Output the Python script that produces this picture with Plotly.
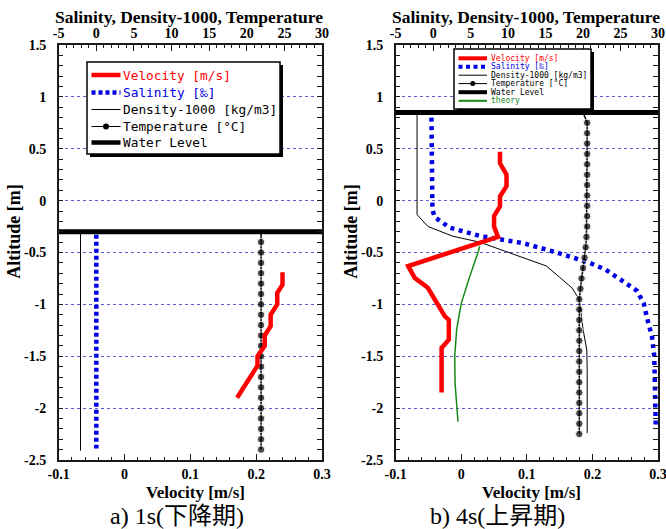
import plotly.graph_objects as go

W, H = 666, 529

# ---------------- data ----------------
# tick labels
alt_ticks = [-2.5, -2, -1.5, -1, -0.5, 0, 0.5, 1, 1.5]
alt_labels = ["-2.5", "-2", "-1.5", "-1", "-0.5", "0", "0.5", "1", "1.5"]
vel_ticks = [-0.1, 0, 0.1, 0.2, 0.3]
vel_labels = ["-0.1", "0", "0.1", "0.2", "0.3"]
top_ticks = [-5, 0, 5, 10, 15, 20, 25, 30]
top_labels = ["-5", "0", "5", "10", "15", "20", "25", "30"]

# panel a) 1s
a_water_level = -0.3
a_vel_alt = [-0.69, -0.81, -0.89, -1.00, -1.10, -1.21, -1.30, -1.40, -1.50, -1.59, -1.90]
a_vel = [0.240, 0.240, 0.232, 0.232, 0.222, 0.222, 0.213, 0.213, 0.202, 0.202, 0.171]
a_sal_alt = [-0.33, -2.39]
a_sal = [0.0, 0.0]
a_den_alt = [-0.3, -2.41]
a_den = [-2.1, -2.1]
a_temp_alt = [-0.3, -0.4, -0.5, -0.6, -0.7, -0.8, -0.9, -1.0, -1.1, -1.2, -1.3,
              -1.4, -1.5, -1.6, -1.7, -1.8, -1.9, -2.0, -2.1, -2.2, -2.3, -2.4]
a_temp = [21.9, 21.9, 21.9, 21.9, 21.9, 21.9, 21.9, 21.9, 21.9, 21.9, 21.9,
          21.9, 21.9, 21.9, 21.9, 21.9, 21.9, 21.9, 21.9, 21.9, 21.9, 21.9]

# panel b) 4s
b_water_level = 0.85
b_vel_alt = [0.47, 0.36, 0.25, 0.14, 0.04, -0.055, -0.15, -0.25, -0.35, -0.63,
             -0.745, -0.84, -1.115, -1.15, -1.34, -1.42, -1.85]
b_vel = [0.059, 0.059, 0.069, 0.069, 0.059, 0.059, 0.050, 0.050, 0.056, -0.081,
         -0.071, -0.051, -0.025, -0.019, -0.019, -0.030, -0.030]
b_theory_alt = [-0.44, -0.49, -0.73, -0.99, -1.24, -1.50, -1.76, -2.13]
b_theory = [0.028, 0.026, 0.013, 0.000, -0.007, -0.010, -0.0095, -0.005]
b_sal_alt = [0.80, -0.09, -0.16, -0.26, -0.34, -0.41, -0.49, -0.60, -0.665, -0.73,
             -0.78, -0.87, -0.99, -1.12, -1.31, -1.50, -1.92, -2.18]
b_sal = [-0.23, -0.1, 0.21, 2.2, 6.2, 12.0, 16.0, 20.9, 23.0, 24.5,
         25.4, 27.2, 28.1, 28.5, 29.2, 29.5, 29.7, 29.7]
b_den_alt = [0.84, -0.135, -0.25, -0.344, -0.40, -0.49, -0.63, -0.74, -0.84, -0.95,
             -1.24, -1.44, -1.63, -2.24]
b_den = [-2.15, -2.15, -0.68, 2.65, 6.2, 9.8, 15.1, 16.9, 18.5, 19.5,
         20.0, 20.5, 20.55, 20.55]
b_temp_alt = [0.85, 0.75, 0.65, 0.55, 0.45, 0.35, 0.25, 0.15, 0.05, -0.05, -0.15,
              -0.25, -0.35, -0.45, -0.55, -0.65, -0.75, -0.85, -0.95, -1.05, -1.15,
              -1.25, -1.35, -1.45, -1.55, -1.65, -1.75, -1.85, -1.95, -2.05, -2.15, -2.25]
b_temp = [20.0, 20.55, 20.55, 20.55, 20.55, 20.55, 20.55, 20.55, 20.55, 20.55, 20.55,
          20.55, 20.45, 20.35, 20.2, 20.0, 19.8, 19.65, 19.5, 19.5, 19.5,
          19.5, 19.5, 19.5, 19.5, 19.5, 19.5, 19.5, 19.5, 19.5, 19.5, 19.5]

captions = ["a) 1s(下降期)", "b) 4s(上昇期)"]
top_title = "Salinity, Density-1000, Temperature"
bottom_title = "Velocity [m/s]"
y_title = "Altitude [m]"

# ---------------- styles ----------------
RED = "#ff0000"
BLUE = "#0000e6"
GREEN = "#168a16"
BLACK = "#000000"
AXC = "#1a1a1a"
GRIDC = "#5a5ad8"
SERIF = "Liberation Serif, Times New Roman, serif"
CJK = "Liberation Serif, Noto Sans CJK JP, serif"
MONO = "DejaVu Sans Mono, Liberation Mono, monospace"


def px(x):
    return x / W


def py(y):
    return 1 - y / H


fig = go.Figure()


def add_panel(xt, xb, ya, sal_alt, sal, den_alt, den, temp_alt, temp, vel_alt, vel,
              wl, dash, theory=None):
    # on top (salinity/density/temperature) axis
    fig.add_trace(go.Scatter(x=den, y=den_alt, xaxis=xt, yaxis=ya, mode="lines",
                             line=dict(color=BLACK, width=1), showlegend=False))
    fig.add_trace(go.Scatter(x=sal, y=sal_alt, xaxis=xt, yaxis=ya, mode="lines",
                             line=dict(color=BLUE, width=4.5, dash=dash), showlegend=False))
    sizes = [0] + [7.5] * (len(temp) - 1)
    fig.add_trace(go.Scatter(x=temp, y=temp_alt, xaxis=xt, yaxis=ya, mode="lines+markers",
                             line=dict(color=BLACK, width=1.5),
                             marker=dict(color=BLACK, size=sizes), showlegend=False))
    # on velocity axis
    if theory is not None:
        fig.add_trace(go.Scatter(x=theory[0], y=theory[1], xaxis=xb, yaxis=ya, mode="lines",
                                 line=dict(color=GREEN, width=1.5), showlegend=False))
    fig.add_trace(go.Scatter(x=vel, y=vel_alt, xaxis=xb, yaxis=ya, mode="lines",
                             line=dict(color=RED, width=4.5), showlegend=False))
    fig.add_trace(go.Scatter(x=[vel_ticks[0], vel_ticks[-1]], y=[wl, wl], xaxis=xb, yaxis=ya,
                             mode="lines", line=dict(color=BLACK, width=5), showlegend=False))


add_panel("x", "x2", "y", a_sal_alt, a_sal, a_den_alt, a_den, a_temp_alt, a_temp,
          a_vel_alt, a_vel, a_water_level, "4px,3px")
add_panel("x3", "x4", "y2", b_sal_alt, b_sal, b_den_alt, b_den, b_temp_alt, b_temp,
          b_vel_alt, b_vel, b_water_level, "4px,4.5px", theory=(b_theory, b_theory_alt))

tickfont = dict(family=SERIF, size=14, color="black", weight="bold")
ydom = [py(460), py(45)]
panel_px = [(58.7, 322.0), (395.7, 658.0)]


def top_axis(dom, anchor):
    return dict(domain=dom, range=[-5, 30], side="top", anchor=anchor, automargin=False,
                tickmode="array", tickvals=top_ticks, ticktext=top_labels,
                ticks="inside", ticklen=6, tickwidth=1, tickcolor=AXC,
                minor=dict(dtick=1, tick0=0, ticks="inside", ticklen=3, tickcolor=AXC),
                showline=True, linecolor=AXC, linewidth=1.5, showgrid=False,
                zeroline=False, tickfont=tickfont, ticklabelstandoff=0,
                ticklabeloverflow="allow")


def bottom_axis(over, anchor):
    return dict(overlaying=over, range=[-0.1, 0.3], side="bottom", anchor=anchor,
                automargin=False,
                tickmode="array", tickvals=vel_ticks, ticktext=vel_labels,
                ticks="inside", ticklen=6, tickwidth=1, tickcolor=AXC,
                minor=dict(dtick=0.02, tick0=0, ticks="inside", ticklen=3, tickcolor=AXC),
                showline=True, linecolor=AXC, linewidth=1.5, showgrid=False,
                zeroline=False, tickfont=tickfont, ticklabelstandoff=0,
                ticklabeloverflow="allow")


def y_axis(anchor):
    return dict(domain=ydom, range=[-2.5, 1.5], anchor=anchor, automargin=False,
                tickmode="array", tickvals=alt_ticks, ticktext=alt_labels,
                ticks="inside", ticklen=5, tickwidth=1, tickcolor=AXC,
                minor=dict(dtick=0.1, tick0=0, ticks="inside", ticklen=5, tickcolor=AXC,
                           showgrid=False),
                showline=True, linecolor=AXC, linewidth=1.5, mirror="ticks",
                showgrid=True, gridcolor=GRIDC, griddash="dot", gridwidth=1,
                zeroline=False, tickfont=tickfont, ticklabelstandoff=8,
                ticklabeloverflow="allow")


fig.update_layout(
    width=W, height=H, margin=dict(l=0, r=0, t=0, b=0, pad=0, autoexpand=False),
    paper_bgcolor="white", plot_bgcolor="white", showlegend=False,
    xaxis=top_axis([px(panel_px[0][0]), px(panel_px[0][1])], "y"),
    xaxis2=bottom_axis("x", "y"),
    xaxis3=top_axis([px(panel_px[1][0]), px(panel_px[1][1])], "y2"),
    xaxis4=bottom_axis("x3", "y2"),
    yaxis=y_axis("x"),
    yaxis2=y_axis("x3"),
)

shapes = []
annotations = []

# titles
for i, (l, r) in enumerate(panel_px):
    cx = (l + r) / 2
    annotations.append(dict(text=top_title, x=px(cx - 1), y=py(17), xref="paper", yref="paper",
                            showarrow=False, xanchor="center", yanchor="middle",
                            font=dict(family=SERIF, size=17.5, color="black", weight="bold")))
    annotations.append(dict(text=bottom_title, x=px(cx + 5), y=py(492), xref="paper", yref="paper",
                            showarrow=False, xanchor="center", yanchor="middle",
                            font=dict(family=SERIF, size=17, color="black", weight="bold")))
    annotations.append(dict(text=y_title, x=px(l - 45), y=py(232), xref="paper", yref="paper",
                            showarrow=False, xanchor="center", yanchor="middle", textangle=-90,
                            font=dict(family=SERIF, size=18, color="black", weight="bold")))
    annotations.append(dict(text=captions[i], x=px(cx - 13 + i * -16), y=py(516), xref="paper",
                            yref="paper", showarrow=False, xanchor="center", yanchor="middle",
                            font=dict(family=CJK, size=24, color="black")))


def build_legend(box, rows, sx0, sx1, tx, fsize, entries, mr):
    x0, y0, x1, y1 = box
    shapes.append(dict(type="rect", xref="paper", yref="paper", layer="above",
                       x0=px(x0 + 3), x1=px(x1 + 3), y0=py(y0 + 3), y1=py(y1 + 3),
                       fillcolor="black", line=dict(width=0)))
    shapes.append(dict(type="rect", xref="paper", yref="paper", layer="above",
                       x0=px(x0), x1=px(x1), y0=py(y0), y1=py(y1),
                       fillcolor="white", line=dict(color="black", width=1.5)))
    for ry, (name, col, tcol, lw, dsh, mk) in zip(rows, entries):
        shapes.append(dict(type="line", xref="paper", yref="paper", layer="above",
                           x0=px(sx0), x1=px(sx1), y0=py(ry), y1=py(ry),
                           line=dict(color=col, width=lw, dash=dsh)))
        if mk:
            cx = (sx0 + sx1) / 2
            shapes.append(dict(type="circle", xref="paper", yref="paper", layer="above",
                               x0=px(cx - mr), x1=px(cx + mr), y0=py(ry - mr), y1=py(ry + mr),
                               fillcolor="black", line=dict(width=0)))
        annotations.append(dict(text=name, x=px(tx), y=py(ry), xref="paper", yref="paper",
                                showarrow=False, xanchor="left", yanchor="middle",
                                font=dict(family=MONO, size=fsize, color=tcol)))


entries_a = [
    ("Velocity [m/s]", RED, RED, 4.5, "solid", False),
    ("Salinity [‰]", BLUE, BLUE, 4.5, "4px,3px", False),
    ("Density-1000 [kg/m3]", BLACK, BLACK, 1, "solid", False),
    ("Temperature [°C]", BLACK, BLACK, 1, "solid", True),
    ("Water Level", BLACK, BLACK, 4.5, "solid", False),
]
build_legend((87, 62, 280, 154), [75, 92.5, 109.5, 126.5, 142.5], 91.5, 120.5, 121, 12.8,
             entries_a, 3)

entries_b = [
    ("Velocity [m/s]", RED, RED, 4, "solid", False),
    ("Salinity [‰]", BLUE, BLUE, 4, "4px,3.5px", False),
    ("Density-1000 [kg/m3]", BLACK, BLACK, 1, "solid", False),
    ("Temperature [°C]", BLACK, BLACK, 1, "solid", True),
    ("Water Level", BLACK, BLACK, 4, "solid", False),
    ("theory", GREEN, GREEN, 2, "solid", False),
]
build_legend((454, 49, 591, 109), [58.3, 66.8, 75.2, 83.6, 92.2, 100.8], 458.5, 487, 488.5, 8,
             entries_b, 2.5)

fig.update_layout(shapes=shapes, annotations=annotations)

fig.write_html("out.html",
               config={"displayModeBar": False},
               post_script="document.body.style.margin='0px';"
                           "document.body.style.overflow='hidden';")
